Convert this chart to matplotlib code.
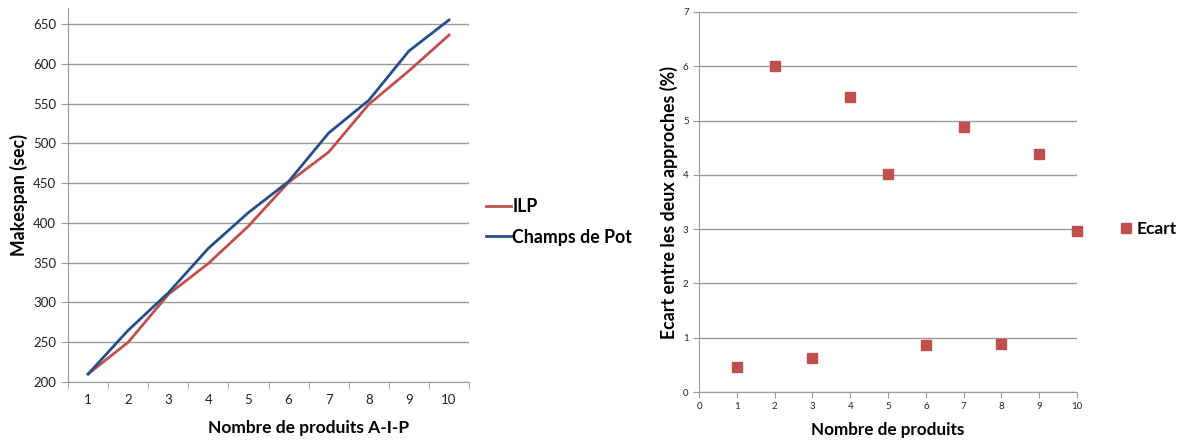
import numpy as np
import matplotlib
matplotlib.use('Agg')
from matplotlib import pyplot as plt

plt.rcParams['font.family'] = ['Lato', 'DejaVu Sans']

produits = [1, 2, 3, 4, 5, 6, 7, 8, 9, 10]
ilp = [210, 250, 310, 349, 396, 451, 489, 549, 591, 636]
champs_pot = [210, 265, 312, 368, 413, 452, 513, 554, 616, 655]
ecart = [0.46, 6.01, 0.63, 5.43, 4.02, 0.87, 4.89, 0.89, 4.39, 2.97]

red = '#C0504D'
blue = '#254F87'
grid_c = '#999999'

fig = plt.figure(figsize=(11.83, 4.41), dpi=100)

# left: makespan
ax1 = fig.add_axes([0.0575, 0.1338, 0.339, 0.848])
ax1.plot(produits, ilp, color=red, lw=2.0, label='ILP')
ax1.plot(produits, champs_pot, color=blue, lw=2.0, label='Champs de Pot')
ax1.set_xlim(0.5, 10.5)
ax1.set_ylim(200, 670)
ax1.set_yticks(range(200, 651, 50))
ax1.set_xticks(produits)
ax1.set_xticks(np.arange(0.5, 10.6, 1), minor=True)
ax1.tick_params(axis='x', which='major', length=0, labelsize=9.5, pad=9, colors='#222222')
ax1.tick_params(axis='x', which='minor', length=5, color=grid_c, direction='out')
ax1.tick_params(axis='y', length=5, color=grid_c, labelsize=9.5, colors='#222222')
ax1.yaxis.grid(True, color=grid_c, lw=1)
ax1.set_axisbelow(True)
for s in ['top', 'right']:
    ax1.spines[s].set_visible(False)
for s in ['left', 'bottom']:
    ax1.spines[s].set_color(grid_c)
ax1.set_xlabel('Nombre de produits A-I-P', fontsize=12.5, fontweight='bold', va='center')
ax1.xaxis.set_label_coords(0.6, -0.123)
ax1.set_ylabel('Makespan (sec)', fontsize=12.8, fontweight='bold', va='center')
ax1.yaxis.set_label_coords(-0.122, 0.5)
ax1.legend(loc='center left', bbox_to_anchor=(1.0425, 0.428), frameon=False,
           prop={'weight': 'bold', 'size': 12.8}, handlelength=1.4,
           handletextpad=0.08, labelspacing=0.75, borderpad=0, borderaxespad=0)

# right: ecart
ax2 = fig.add_axes([0.5909, 0.1111, 0.3195, 0.8617])
ax2.plot(produits, ecart, 's', color=red, ms=6.5, label='Ecart', clip_on=False)
ax2.set_xlim(0, 10)
ax2.set_ylim(0, 7)
ax2.set_xticks(range(0, 11))
ax2.set_yticks(range(0, 8))
ax2.tick_params(axis='both', length=4, color=grid_c, labelsize=7, colors='#222222')
ax2.yaxis.grid(True, color=grid_c, lw=1)
ax2.set_axisbelow(True)
for s in ['top', 'right']:
    ax2.spines[s].set_visible(False)
for s in ['left', 'bottom']:
    ax2.spines[s].set_color(grid_c)
ax2.set_xlabel('Nombre de produits', fontsize=12.3, fontweight='bold', va='center')
ax2.xaxis.set_label_coords(0.5, -0.1)
ax2.set_ylabel('Ecart entre les deux approches (%)', fontsize=12.8, fontweight='bold', va='center')
ax2.yaxis.set_label_coords(-0.079, 0.5)
ax2.legend(loc='center left', bbox_to_anchor=(1.111, 0.43), frameon=False,
           prop={'weight': 'bold', 'size': 12.5}, handlelength=0.8,
           handletextpad=0.23, borderpad=0, borderaxespad=0)

fig.savefig('out.png', dpi=100)
